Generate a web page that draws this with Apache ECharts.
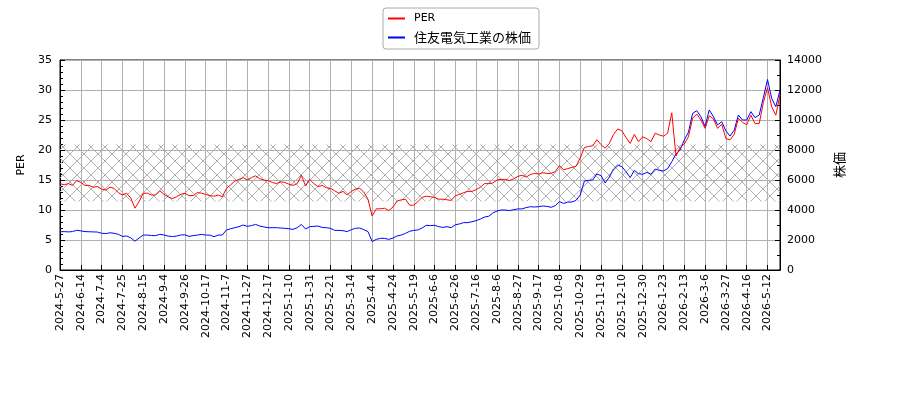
<!DOCTYPE html>
<html>
<head>
<meta charset="utf-8">
<script src="https://cdn.jsdelivr.net/npm/echarts@6/dist/echarts.min.js"></script>
<style>
  html, body { margin: 0; padding: 0; background: #fff; }
  #main { width: 900px; height: 400px; }
</style>
</head>
<body>
<div id="main"></div>
<script>
// 目盛りラベル (15営業日ごと)
var dateLabels = ['2024-5-27', '2024-6-14', '2024-7-4', '2024-7-25', '2024-8-15', '2024-9-4', '2024-9-26',
  '2024-10-17', '2024-11-7', '2024-11-27', '2024-12-17', '2025-1-10', '2025-1-31', '2025-2-21', '2025-3-14',
  '2025-4-4', '2025-4-24', '2025-5-19', '2025-6-6', '2025-6-26', '2025-7-16', '2025-8-6', '2025-8-27',
  '2025-9-17', '2025-10-8', '2025-10-29', '2025-11-19', '2025-12-10', '2025-12-30', '2026-1-23', '2026-2-13',
  '2026-3-6', '2026-3-27', '2026-4-16', '2026-5-12'];
var stepsPerLabel = 5;

// PER (約3営業日ごと)
var perValues = [
  14.4, 14.2, 14.4, 14.1, 14.9, 14.6, 14.1, 14.1, 13.8, 13.9,
  13.5, 13.3, 13.8, 13.6, 12.9, 12.5, 12.8, 12.0, 10.3, 11.4,
  12.8, 12.8, 12.5, 12.5, 13.2, 12.6, 12.2, 11.9, 12.2, 12.6,
  12.8, 12.4, 12.4, 12.9, 12.8, 12.6, 12.4, 12.3, 12.5, 12.2,
  13.6, 14.2, 14.8, 15.1, 15.4, 15.0, 15.4, 15.7, 15.2, 15.0,
  14.9, 14.6, 14.4, 14.7, 14.6, 14.3, 14.1, 14.4, 15.8, 14.0,
  15.1, 14.4, 13.9, 14.1, 13.7, 13.6, 13.2, 12.8, 13.1, 12.5,
  13.1, 13.5, 13.6, 13.0, 11.8, 9.0, 10.2, 10.2, 10.3, 9.9,
  10.5, 11.5, 11.7, 11.8, 10.8, 10.8, 11.4, 12.1, 12.3, 12.2,
  12.1, 11.8, 11.8, 11.7, 11.6, 12.4, 12.6, 12.9, 13.1, 13.1,
  13.4, 13.8, 14.4, 14.4, 14.5, 15.0, 15.1, 15.1, 14.9, 15.2,
  15.6, 15.8, 15.5, 15.9, 16.1, 16.0, 16.2, 16.1, 16.1, 16.4,
  17.4, 16.7, 16.9, 17.1, 17.3, 18.7, 20.4, 20.6, 20.7, 21.7,
  20.9, 20.3, 21.1, 22.6, 23.5, 23.2, 22.1, 21.1, 22.6, 21.4,
  22.2, 21.9, 21.4, 22.8, 22.5, 22.3, 22.8, 26.2, 19.0, 20.4,
  21.0, 22.2, 25.3, 26.0, 25.0, 23.6, 25.7, 25.2, 23.6, 24.3,
  21.9, 21.7, 22.6, 25.3, 24.6, 24.2, 25.8, 24.4, 24.4, 27.9,
  30.4, 27.2, 25.8, 29.2
];

// 株価 (円)
var priceValues = [
  2550, 2560, 2540, 2560, 2650, 2610, 2560, 2550, 2540, 2530,
  2450, 2430, 2480, 2450, 2380, 2240, 2270, 2150, 1920, 2130,
  2330, 2330, 2300, 2290, 2380, 2330, 2260, 2230, 2260, 2330,
  2350, 2240, 2290, 2330, 2380, 2330, 2330, 2220, 2330, 2330,
  2670, 2750, 2820, 2890, 3000, 2910, 2960, 3040, 2930, 2870,
  2820, 2820, 2820, 2800, 2780, 2750, 2710, 2820, 3040, 2730,
  2890, 2910, 2930, 2840, 2820, 2780, 2640, 2640, 2620, 2560,
  2690, 2780, 2800, 2690, 2560, 1900, 2040, 2110, 2110, 2040,
  2130, 2270, 2330, 2440, 2580, 2640, 2670, 2800, 2980, 2960,
  2980, 2890, 2840, 2890, 2820, 3020, 3070, 3160, 3160, 3220,
  3290, 3400, 3530, 3580, 3800, 3930, 4000, 4000, 3960, 4020,
  4070, 4070, 4160, 4220, 4200, 4220, 4270, 4240, 4180, 4290,
  4560, 4440, 4530, 4530, 4640, 5000, 5930, 5980, 6000, 6400,
  6290, 5800, 6200, 6730, 7000, 6890, 6560, 6160, 6640, 6420,
  6380, 6510, 6380, 6730, 6640, 6600, 6760, 7220, 7730, 8000,
  8670, 9180, 10440, 10620, 10220, 9560, 10670, 10220, 9670, 9890,
  9270, 8930, 9330, 10330, 10000, 10000, 10560, 10160, 10330, 11490,
  12700, 11440, 10890, 12000
];

// PER の網掛け帯
var bandLow = 11.4;
var bandHigh = 20.9;

var categories = [];
for (var i = 0; i < perValues.length; i++) {
  categories.push(i % stepsPerLabel === 0 ? dateLabels[i / stepsPerLabel] : '');
}

// 斜線ハッチ (1px のくっきりした線)
function hatchTile() {
  var n = 14;
  var c = document.createElement('canvas');
  c.width = n;
  c.height = n;
  var g = c.getContext('2d');
  g.fillStyle = '#b0b0b0';
  for (var k = 0; k < n; k++) {
    g.fillRect(k, k, 1, 1);
    g.fillRect(n - 1 - k, k, 1, 1);
  }
  return c;
}

var chart = echarts.init(document.getElementById('main'));
var gridColor = '#b0b0b0';

chart.setOption({
  animation: false,
  textStyle: { fontFamily: 'DejaVu Sans, Noto Sans CJK JP' },
  legend: {
    left: 383,
    top: 8,
    orient: 'vertical',
    data: ['PER', '住友電気工業の株価'],
    icon: 'rect',
    itemWidth: 17,
    itemHeight: 2,
    itemGap: 7,
    padding: [5, 8, 5, 5],
    borderColor: '#aaaaaa',
    borderWidth: 1,
    borderRadius: 3,
    formatter: function (name) {
      return name === 'PER' ? '{e|PER}' : '{j|' + name + '}';
    },
    textStyle: {
      color: '#000',
      rich: {
        e: { fontSize: 11, fontFamily: 'DejaVu Sans', lineHeight: 14, padding: [0, 0, 0, 4] },
        j: { fontSize: 13, fontFamily: 'Noto Sans CJK JP', lineHeight: 14, padding: [0, 0, 0, 4] }
      }
    }
  },
  grid: { left: 60, right: 120, top: 60, bottom: 130, show: true, borderColor: '#000', borderWidth: 1 },
  xAxis: {
    type: 'category',
    data: categories,
    boundaryGap: false,
    axisLine: { lineStyle: { color: '#000' } },
    axisTick: { inside: true, length: 5, interval: stepsPerLabel - 1, lineStyle: { color: '#000' } },
    axisLabel: { interval: stepsPerLabel - 1, rotate: 90, fontSize: 11, color: '#000', margin: 4 },
    splitLine: { show: true, interval: stepsPerLabel - 1, lineStyle: { color: gridColor, width: 1 } }
  },
  yAxis: [
    {
      type: 'value', min: 0, max: 35, interval: 5,
      name: 'PER', nameLocation: 'middle', nameGap: 33, nameRotate: 90,
      nameTextStyle: { fontSize: 11, color: '#000' },
      axisLine: { show: true, lineStyle: { color: '#000' } },
      axisTick: { show: true, inside: true, length: 5, lineStyle: { color: '#000' } },
      minorTick: { show: true, splitNumber: 5, length: 3, lineStyle: { color: '#000' } },
      axisLabel: { fontSize: 11, color: '#000', margin: 8 },
      splitLine: { show: true, lineStyle: { color: gridColor, width: 1 } }
    },
    {
      type: 'value', min: 0, max: 14000, interval: 2000, position: 'right',
      name: '株価', nameLocation: 'middle', nameGap: 44, nameRotate: 90,
      nameTextStyle: { fontSize: 13, color: '#000', fontFamily: 'Noto Sans CJK JP' },
      axisLine: { show: true, lineStyle: { color: '#000' } },
      axisTick: { show: true, inside: true, length: 5, lineStyle: { color: '#000' } },
      minorTick: { show: true, splitNumber: 2, length: 3, lineStyle: { color: '#000' } },
      axisLabel: { fontSize: 11, color: '#000', margin: 7, formatter: function (v) { return String(v); } },
      splitLine: { show: false }
    }
  ],
  series: [
    {
      name: '住友電気工業の株価',
      type: 'line',
      yAxisIndex: 1,
      data: priceValues,
      showSymbol: false,
      lineStyle: { color: '#0000ff', width: 1 },
      itemStyle: { color: '#0000ff' },
      markArea: {
        silent: true,
        itemStyle: { color: { image: hatchTile(), repeat: 'repeat' } },
        data: [[{ yAxis: bandLow * 400 }, { yAxis: bandHigh * 400 }]]
      }
    },
    {
      name: 'PER',
      type: 'line',
      yAxisIndex: 0,
      data: perValues,
      showSymbol: false,
      lineStyle: { color: '#ff0000', width: 1 },
      itemStyle: { color: '#ff0000' }
    }
  ]
});
</script>
</body>
</html>
